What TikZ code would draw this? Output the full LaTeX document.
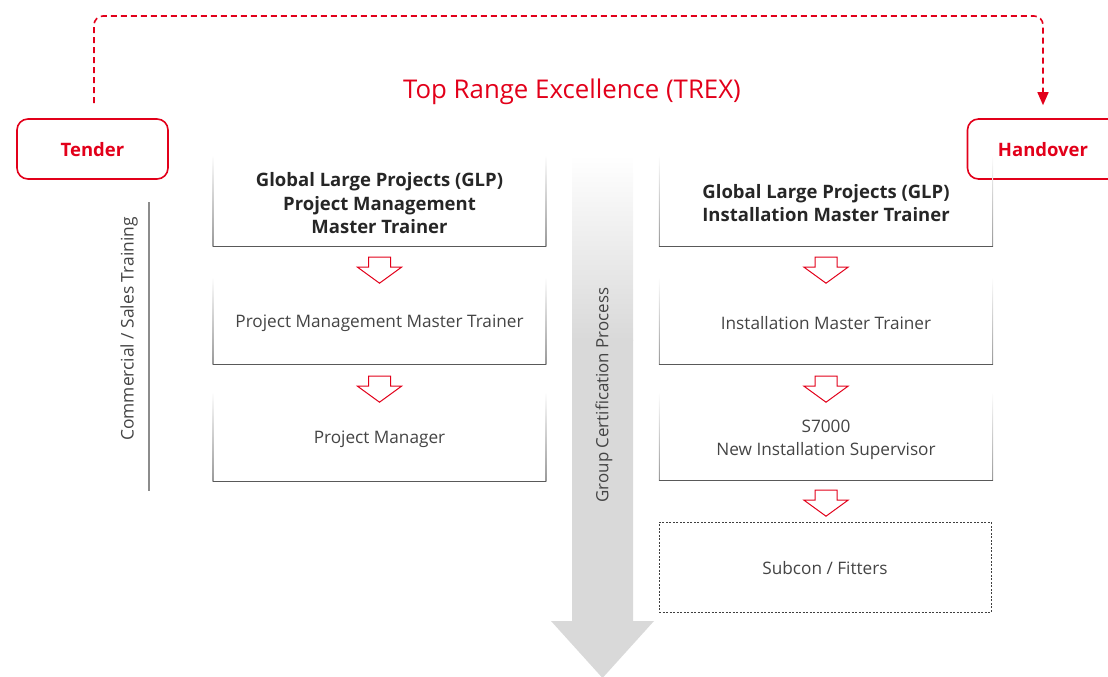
\documentclass[tikz,border=0pt]{standalone}
\usepackage{fontspec}
\setmainfont{Open Sans}
\usetikzlibrary{arrows.meta,calc}
\definecolor{sred}{HTML}{E2001A}
\definecolor{txt}{HTML}{444444}
\definecolor{agray}{HTML}{D9D9D9}
\newcommand\fadebox[1]{%
  \shade[top color=white,bottom color=black!40] ([xshift=-0.5pt]#1.north west) rectangle ([xshift=0.5pt]#1.south west);
  \shade[top color=white,bottom color=black!40] ([xshift=-0.5pt]#1.north east) rectangle ([xshift=0.5pt]#1.south east);
  \draw[black!65,line width=1pt] (#1.south west) -- (#1.south east);}
\begin{document}
\begin{tikzpicture}[x=1pt,y=-1pt,
  endbox/.style={draw=sred,line width=1.6pt,rounded corners=11pt,minimum width=151pt,minimum height=60pt,
     text=sred,font=\bfseries\fontsize{18.5}{22}\selectfont,inner sep=0pt,text height=15.5pt,text depth=0pt},
  stagebox/.style={minimum width=333pt,inner sep=0pt},
  stage/.style={inner sep=0pt,align=center,text=txt,font=\fontsize{17.2}{23}\selectfont},
  stagebold/.style={stage,font=\bfseries\fontsize{18.5}{23.5}\selectfont,text=black!85},
  harrow/.pic={\draw[sred,line width=1pt,fill=white,line join=miter]
     (-11,0)--(11,0)--(11,10)--(22,10)--(0,26)--(-22,10)--(-11,10)--cycle;},
]
\useasboundingbox (0,0) rectangle (1108,677);

% big grey arrow
\shade[top color=white,bottom color=agray] (572,155) rectangle (633,340);
\fill[agray] (572,339.5) -- (633,339.5) -- (633,621) -- (654,621) -- (602.5,678) -- (551,621) -- (572,621) -- cycle;
\node[rotate=90,text=txt,font=\fontsize{16.9}{19}\selectfont] (gcp) at (604,395) {Group Certification Process};

% title
\node[text=sred,font=\fontsize{25.8}{30}\selectfont] (trex) at (572,92) {Top Range Excellence (TREX)};

% end boxes
\node[endbox] (tender) at (92.5,149) {Tender};
\node[endbox] (handover) at (1043,149) {Handover};
\coordinate (dstart) at ([xshift=1.5pt,yshift=15pt]tender.north);
\coordinate (dend) at ([yshift=13pt]handover.north);
\draw[sred,line width=1.6pt,dash pattern=on 6pt off 4pt,rounded corners=9pt,-{Triangle[width=11pt,length=13pt]}]
  (dstart) -- (dstart |- 0,16) -- (dend |- 0,16) -- (dend);

% commercial line
\draw[black!45,line width=1.3pt] (149,202) -- (149,491);
\node[rotate=90,text=txt,font=\fontsize{17.4}{19}\selectfont] (comm) at (129,329) {Commercial / Sales Training};

% left column
\node[stagebox,minimum height=91pt] (l1) at (379.5,200.5) {};
\node[stagebold] (l1t) at ([yshift=-3pt]l1.center) {Global Large Projects (GLP)\\Project Management\\Master Trainer};
\node[stagebox,minimum height=87pt] (l2) at (379.5,320.5) {};
\node[stage] (l2t) at ([yshift=-3pt]l2.center) {Project Management Master Trainer};
\node[stagebox,minimum height=89pt] (l3) at (379.5,436.5) {};
\node[stage] (l3t) at ([yshift=-3pt]l3.center) {Project Manager};
\fadebox{l1}\fadebox{l2}\fadebox{l3}
\pic at ([yshift=-11pt]l1.south) {harrow};
\pic at ([yshift=-12pt]l2.south) {harrow};

% right column
\node[stagebox,minimum height=91pt] (r1) at (826,200.5) {};
\node[stagebold] (r1t) at ([yshift=-2.5pt]r1.center) {Global Large Projects (GLP)\\Installation Master Trainer};
\node[stagebox,minimum height=87pt] (r2) at (826,320.5) {};
\node[stage] (r2t) at ([yshift=-2.5pt]r2.center) {Installation Master Trainer};
\node[stagebox,minimum height=88pt] (r3) at (826,436) {};
\node[stage] (r3t) at ([yshift=-3.5pt]r3.center) {S7000\\New Installation Supervisor};
\node[stagebox,minimum height=90pt,draw=black!75,line width=0.8pt,dash pattern=on 2pt off 1.5pt,minimum width=332pt] (r4) at (825,567) {};
\node[stage] (r4t) at ([yshift=-1.5pt]r4.center) {Subcon / Fitters};
\fadebox{r1}\fadebox{r2}\fadebox{r3}
\pic at ([yshift=-11pt]r1.south) {harrow};
\pic at ([yshift=-12pt]r2.south) {harrow};
\pic at ([yshift=-10pt]r3.south) {harrow};
\end{tikzpicture}
\end{document}
